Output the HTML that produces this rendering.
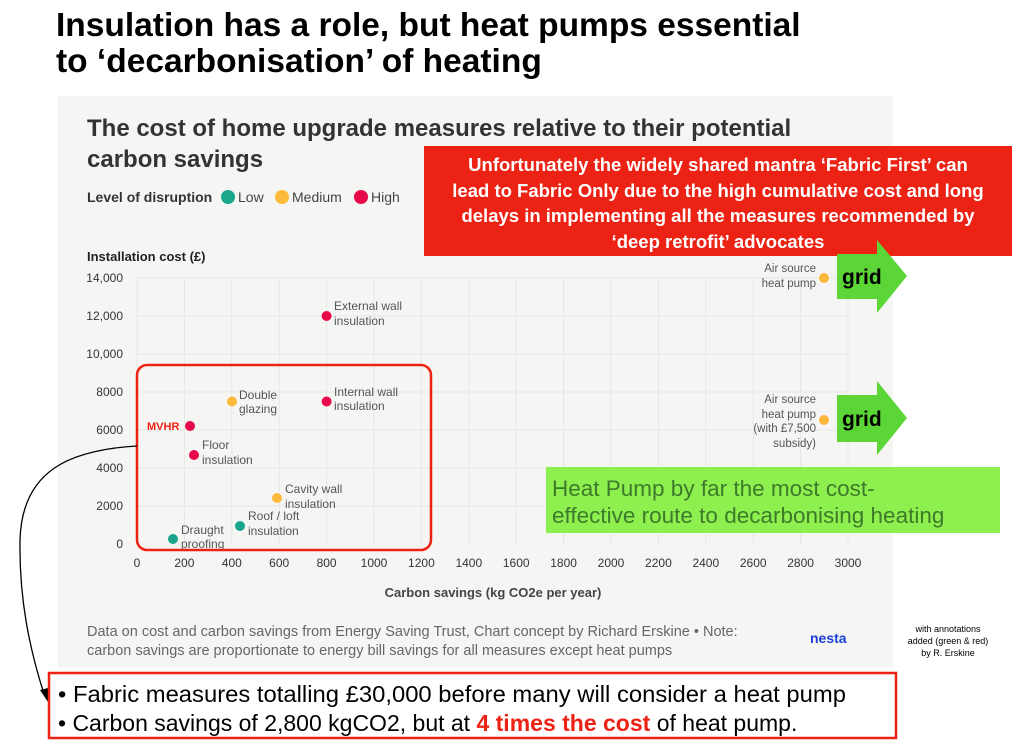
<!DOCTYPE html>
<html><head><meta charset="utf-8"><style>
html,body{margin:0;padding:0;background:#fff;width:1024px;height:752px;overflow:hidden}
svg{display:block}
</style></head><body>
<svg width="1024" height="752" viewBox="0 0 1024 752" xmlns="http://www.w3.org/2000/svg" font-family="Liberation Sans, sans-serif">
<text x="56" y="36" font-size="33.5" font-weight="bold" fill="#000">Insulation has a role, but heat pumps essential</text>
<text x="56" y="72" font-size="33.5" font-weight="bold" fill="#000">to ‘decarbonisation’ of heating</text>
<rect x="58" y="96" width="835" height="572" fill="#f5f6f4"/>
<text x="87" y="136" font-size="24" font-weight="bold" fill="#333">The cost of home upgrade measures relative to their potential</text>
<text x="87" y="167" font-size="24" font-weight="bold" fill="#333">carbon savings</text>
<text x="87" y="202" font-size="14" font-weight="bold" fill="#333">Level of disruption</text>
<circle cx="228" cy="197" r="7" fill="#1aa68b"/><text x="238" y="202" font-size="14" fill="#444">Low</text>
<circle cx="282" cy="197" r="7" fill="#fdb93a"/><text x="292" y="202" font-size="14" fill="#444">Medium</text>
<circle cx="361" cy="197" r="7" fill="#e8094a"/><text x="371" y="202" font-size="14" fill="#444">High</text>
<text x="87" y="261" font-size="13" font-weight="bold" fill="#222">Installation cost (£)</text>
<g stroke="#e6e8e5" stroke-width="1">
<line x1="137" y1="278" x2="848" y2="278"/><line x1="137" y1="316" x2="848" y2="316"/><line x1="137" y1="354" x2="848" y2="354"/><line x1="137" y1="392" x2="848" y2="392"/><line x1="137" y1="430" x2="848" y2="430"/><line x1="137" y1="468" x2="848" y2="468"/><line x1="137" y1="506" x2="848" y2="506"/>
<line x1="137" y1="278" x2="137" y2="544"/><line x1="184.4" y1="278" x2="184.4" y2="544"/><line x1="231.8" y1="278" x2="231.8" y2="544"/><line x1="279.2" y1="278" x2="279.2" y2="544"/><line x1="326.6" y1="278" x2="326.6" y2="544"/><line x1="374" y1="278" x2="374" y2="544"/><line x1="421.4" y1="278" x2="421.4" y2="544"/><line x1="468.8" y1="278" x2="468.8" y2="544"/><line x1="516.2" y1="278" x2="516.2" y2="544"/><line x1="563.6" y1="278" x2="563.6" y2="544"/><line x1="611" y1="278" x2="611" y2="544"/><line x1="658.4" y1="278" x2="658.4" y2="544"/><line x1="705.8" y1="278" x2="705.8" y2="544"/><line x1="753.2" y1="278" x2="753.2" y2="544"/><line x1="800.6" y1="278" x2="800.6" y2="544"/><line x1="848" y1="278" x2="848" y2="544"/>
</g>
<g font-size="12" fill="#333" text-anchor="end">
<text x="123" y="282">14,000</text><text x="123" y="320">12,000</text><text x="123" y="358">10,000</text><text x="123" y="396">8000</text><text x="123" y="434">6000</text><text x="123" y="472">4000</text><text x="123" y="510">2000</text><text x="123" y="548">0</text>
</g>
<g font-size="12" fill="#333" text-anchor="middle">
<text x="137" y="567">0</text><text x="184.4" y="567">200</text><text x="231.8" y="567">400</text><text x="279.2" y="567">600</text><text x="326.6" y="567">800</text><text x="374" y="567">1000</text><text x="421.4" y="567">1200</text><text x="468.8" y="567">1400</text><text x="516.2" y="567">1600</text><text x="563.6" y="567">1800</text><text x="611" y="567">2000</text><text x="658.4" y="567">2200</text><text x="705.8" y="567">2400</text><text x="753.2" y="567">2600</text><text x="800.6" y="567">2800</text><text x="848" y="567">3000</text>
</g>
<text x="493" y="597" font-size="13" font-weight="bold" fill="#444" text-anchor="middle">Carbon savings (kg CO2e per year)</text>
<g font-size="12" fill="#555">
<text x="334" y="310">External wall</text><text x="334" y="325">insulation</text>
<text x="334" y="396">Internal wall</text><text x="334" y="410">insulation</text>
<text x="239" y="399">Double</text><text x="239" y="413">glazing</text>
<text x="202" y="449">Floor</text><text x="202" y="464">insulation</text>
<text x="285" y="493">Cavity wall</text><text x="285" y="508">insulation</text>
<text x="248" y="520">Roof / loft</text><text x="248" y="535">insulation</text>
<text x="181" y="534">Draught</text><text x="181" y="548">proofing</text>
<g text-anchor="end" font-size="11.5"><text x="816" y="272">Air source</text><text x="816" y="287">heat pump</text>
<text x="816" y="403">Air source</text><text x="816" y="418">heat pump</text><text x="816" y="432">(with £7,500</text><text x="816" y="447">subsidy)</text></g>
</g>
<text x="147" y="430" font-size="11" font-weight="bold" fill="#ee2211">MVHR</text>
<circle cx="326.6" cy="316" r="5" fill="#e8094a"/>
<circle cx="326.6" cy="401.5" r="5" fill="#e8094a"/>
<circle cx="232" cy="401.5" r="5" fill="#fdb93a"/>
<circle cx="190" cy="426" r="5" fill="#e8094a"/>
<circle cx="194" cy="455" r="5" fill="#e8094a"/>
<circle cx="277" cy="498" r="5" fill="#fdb93a"/>
<circle cx="240" cy="526" r="5" fill="#1aa68b"/>
<circle cx="173" cy="539" r="5" fill="#1aa68b"/>
<circle cx="824" cy="278" r="5" fill="#fdb93a"/>
<circle cx="824" cy="420" r="5" fill="#fdb93a"/>
<rect x="137" y="365" width="294" height="185" rx="10" fill="none" stroke="#ee2211" stroke-width="2.5"/>
<path d="M137,446 C70,450 22,470 20,540 C19,600 30,650 44,694" fill="none" stroke="#000" stroke-width="1.3"/>
<polygon points="48,702 40,690 48,688" fill="#000"/>
<text x="87" y="636" font-size="14.5" fill="#666">Data on cost and carbon savings from Energy Saving Trust, Chart concept by Richard Erskine • Note:</text>
<text x="87" y="655" font-size="14.5" fill="#666">carbon savings are proportionate to energy bill savings for all measures except heat pumps</text>
<text x="810" y="643" font-size="14" font-weight="bold" fill="#1b3fd6">nesta</text>
<g font-size="9" fill="#000" text-anchor="middle"><text x="948" y="632">with annotations</text><text x="948" y="644">added (green &amp; red)</text><text x="948" y="656">by R. Erskine</text></g>
<rect x="424" y="146" width="588" height="110" fill="#ec2214"/>
<g font-size="18.5" font-weight="bold" fill="#fff" text-anchor="middle">
<text x="718" y="171">Unfortunately the widely shared mantra ‘Fabric First’ can</text>
<text x="718" y="197">lead to Fabric Only due to the high cumulative cost and long</text>
<text x="718" y="222">delays in implementing all the measures recommended by</text>
<text x="718" y="248">‘deep retrofit’ advocates</text>
</g>
<polygon points="837,254 877,254 877,240 907,276 877,313 877,299 837,299" fill="#5cd636"/>
<text x="842" y="284" font-size="21" font-weight="bold" fill="#000">grid</text>
<polygon points="837,395 877,395 877,381 907,418 877,455 877,442 837,442" fill="#5cd636"/>
<text x="842" y="426" font-size="21" font-weight="bold" fill="#000">grid</text>
<rect x="546" y="467" width="454" height="66" fill="#8ef04f"/>
<text x="552" y="496" font-size="22.5" fill="#3d7a2a">Heat Pump by far the most cost-</text>
<text x="552" y="523" font-size="22.5" fill="#3d7a2a">effective route to decarbonising heating</text>
<rect x="49" y="673" width="847" height="65" fill="#fff" stroke="#ec2214" stroke-width="2.5"/>
<text x="58" y="702" font-size="23" fill="#000" textLength="788" lengthAdjust="spacingAndGlyphs">• Fabric measures totalling £30,000 before many will consider a heat pump</text>
<text x="58" y="731" font-size="23" fill="#000">• Carbon savings of 2,800 kgCO2, but at <tspan fill="#ec2214" font-weight="bold">4 times the cost</tspan> of heat pump.</text>
</svg>
</body></html>
